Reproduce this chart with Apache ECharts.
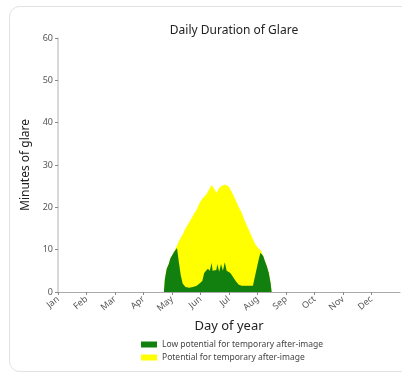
<!DOCTYPE html>
<html>
<head>
<meta charset="utf-8">
<script src="https://cdn.jsdelivr.net/npm/echarts@6/dist/echarts.min.js"></script>
<style>
html,body{margin:0;padding:0;background:#fff;}
#chart{width:402px;height:375px;}
</style>
</head>
<body>
<div id="chart"></div>
<script>
// Day-of-year positions for the samples
var days = [113,114,116,118,120,122,124,126,127,129,131,133,136,140,144,148,151,154,156,158,160,162,164,165,167,169,170,172,174,176,178,180,182,184,187,190,193,196,199,202,205,208,210,212,214,216,217,219,221,223,225,227,228];
// Low potential for temporary after-image (minutes)
var lowPotential = [0,3,5.5,6.5,8,8.2,9.5,9.8,10.4,7,4,2,1.2,1,1.2,1.5,2,2.6,4.5,5,5.5,5,6.9,5,4.8,5.2,6.6,4.8,6.6,5,7,5,4.8,4.5,3.5,2.5,1.7,1.5,1.5,1.5,1.5,1.5,3.5,5.5,7.5,9.3,9.7,8.5,7.2,6,4.5,2,0];
// Potential for temporary after-image (minutes, stacked above the low-potential band)
var potential = [0,0,0,0,0,0,0,0,0.6,5,8.8,11.5,13.8,15.5,16.8,18,19,19.4,18,18,18.2,19.5,18.4,20,19.5,18.2,17.2,19.7,18.4,20.2,18.4,20.5,20.2,19.7,19.5,19,18.3,17.3,15.5,14,12.5,11,8,5.3,2.8,0.7,0,0,0,0,0,0,0];
var monthLabels = ['Jan','Feb','Mar','Apr','May','Jun','Jul','Aug','Sep','Oct','Nov','Dec'];
var yTicks = [0,10,20,30,40,50,60];

var monthStep = 365/12;
var lowName = 'Low potential for temporary after-image';
var potName = 'Potential for temporary after-image';
var chart = echarts.init(document.getElementById('chart'));
var font = 'Noto Sans';
chart.setOption({
  animation:false,
  backgroundColor:'#fff',
  textStyle:{fontFamily:font},
  graphic:[{type:'rect',shape:{x:9.5,y:6.5,width:600,height:365,r:10},style:{fill:'none',stroke:'#e2e2e2',lineWidth:1},z:-10,silent:true}],
  title:{text:'Daily Duration of Glare',left:229,top:20,textAlign:'center',
    textStyle:{fontSize:12,fontWeight:'normal',color:'#222',fontFamily:font}},
  grid:{left:58,right:2,top:38,bottom:83,containLabel:false},
  legend:{orient:'vertical',left:136,top:335,itemWidth:16,itemHeight:6,itemGap:4,icon:'rect',
    textStyle:{fontSize:8.5,color:'#444',fontFamily:font},
    data:[lowName,potName]},
  xAxis:{type:'value',min:0,max:365,interval:monthStep,
    name:'Day of year',nameLocation:'middle',nameGap:27,
    nameTextStyle:{fontSize:13,color:'#222',fontFamily:font},
    axisLine:{lineStyle:{color:'#aaa',width:1}},
    axisTick:{show:true,length:3,lineStyle:{color:'#888'}},
    splitLine:{show:false},
    axisLabel:{rotate:40,fontSize:9,color:'#555',margin:6,showMaxLabel:false,
      formatter:function(v){var i=Math.round(v/monthStep);return monthLabels[i]||'';}}},
  yAxis:{type:'value',min:yTicks[0],max:yTicks[yTicks.length-1],interval:10,
    name:'Minutes of glare',nameLocation:'middle',nameGap:19,nameRotate:90,
    nameTextStyle:{fontSize:12,color:'#222',fontFamily:font},
    axisLine:{show:true,lineStyle:{color:'#ccc',width:1.5}},
    axisTick:{show:true,length:3,lineStyle:{color:'#888'}},
    splitLine:{show:false},
    axisLabel:{fontSize:9,color:'#555',margin:5}},
  series:[
    {name:potName,type:'line',symbol:'none',z:2,
     data:days.map(function(d,i){return [d,lowPotential[i]+potential[i]];}),
     lineStyle:{width:0},itemStyle:{color:'#ffff00'},areaStyle:{color:'#ffff00',opacity:1}},
    {name:lowName,type:'line',symbol:'none',z:3,
     data:days.map(function(d,i){return [d,lowPotential[i]];}),
     lineStyle:{width:0},itemStyle:{color:'#12800f'},areaStyle:{color:'#12800f',opacity:1}}
  ]
});
</script>
</body>
</html>
